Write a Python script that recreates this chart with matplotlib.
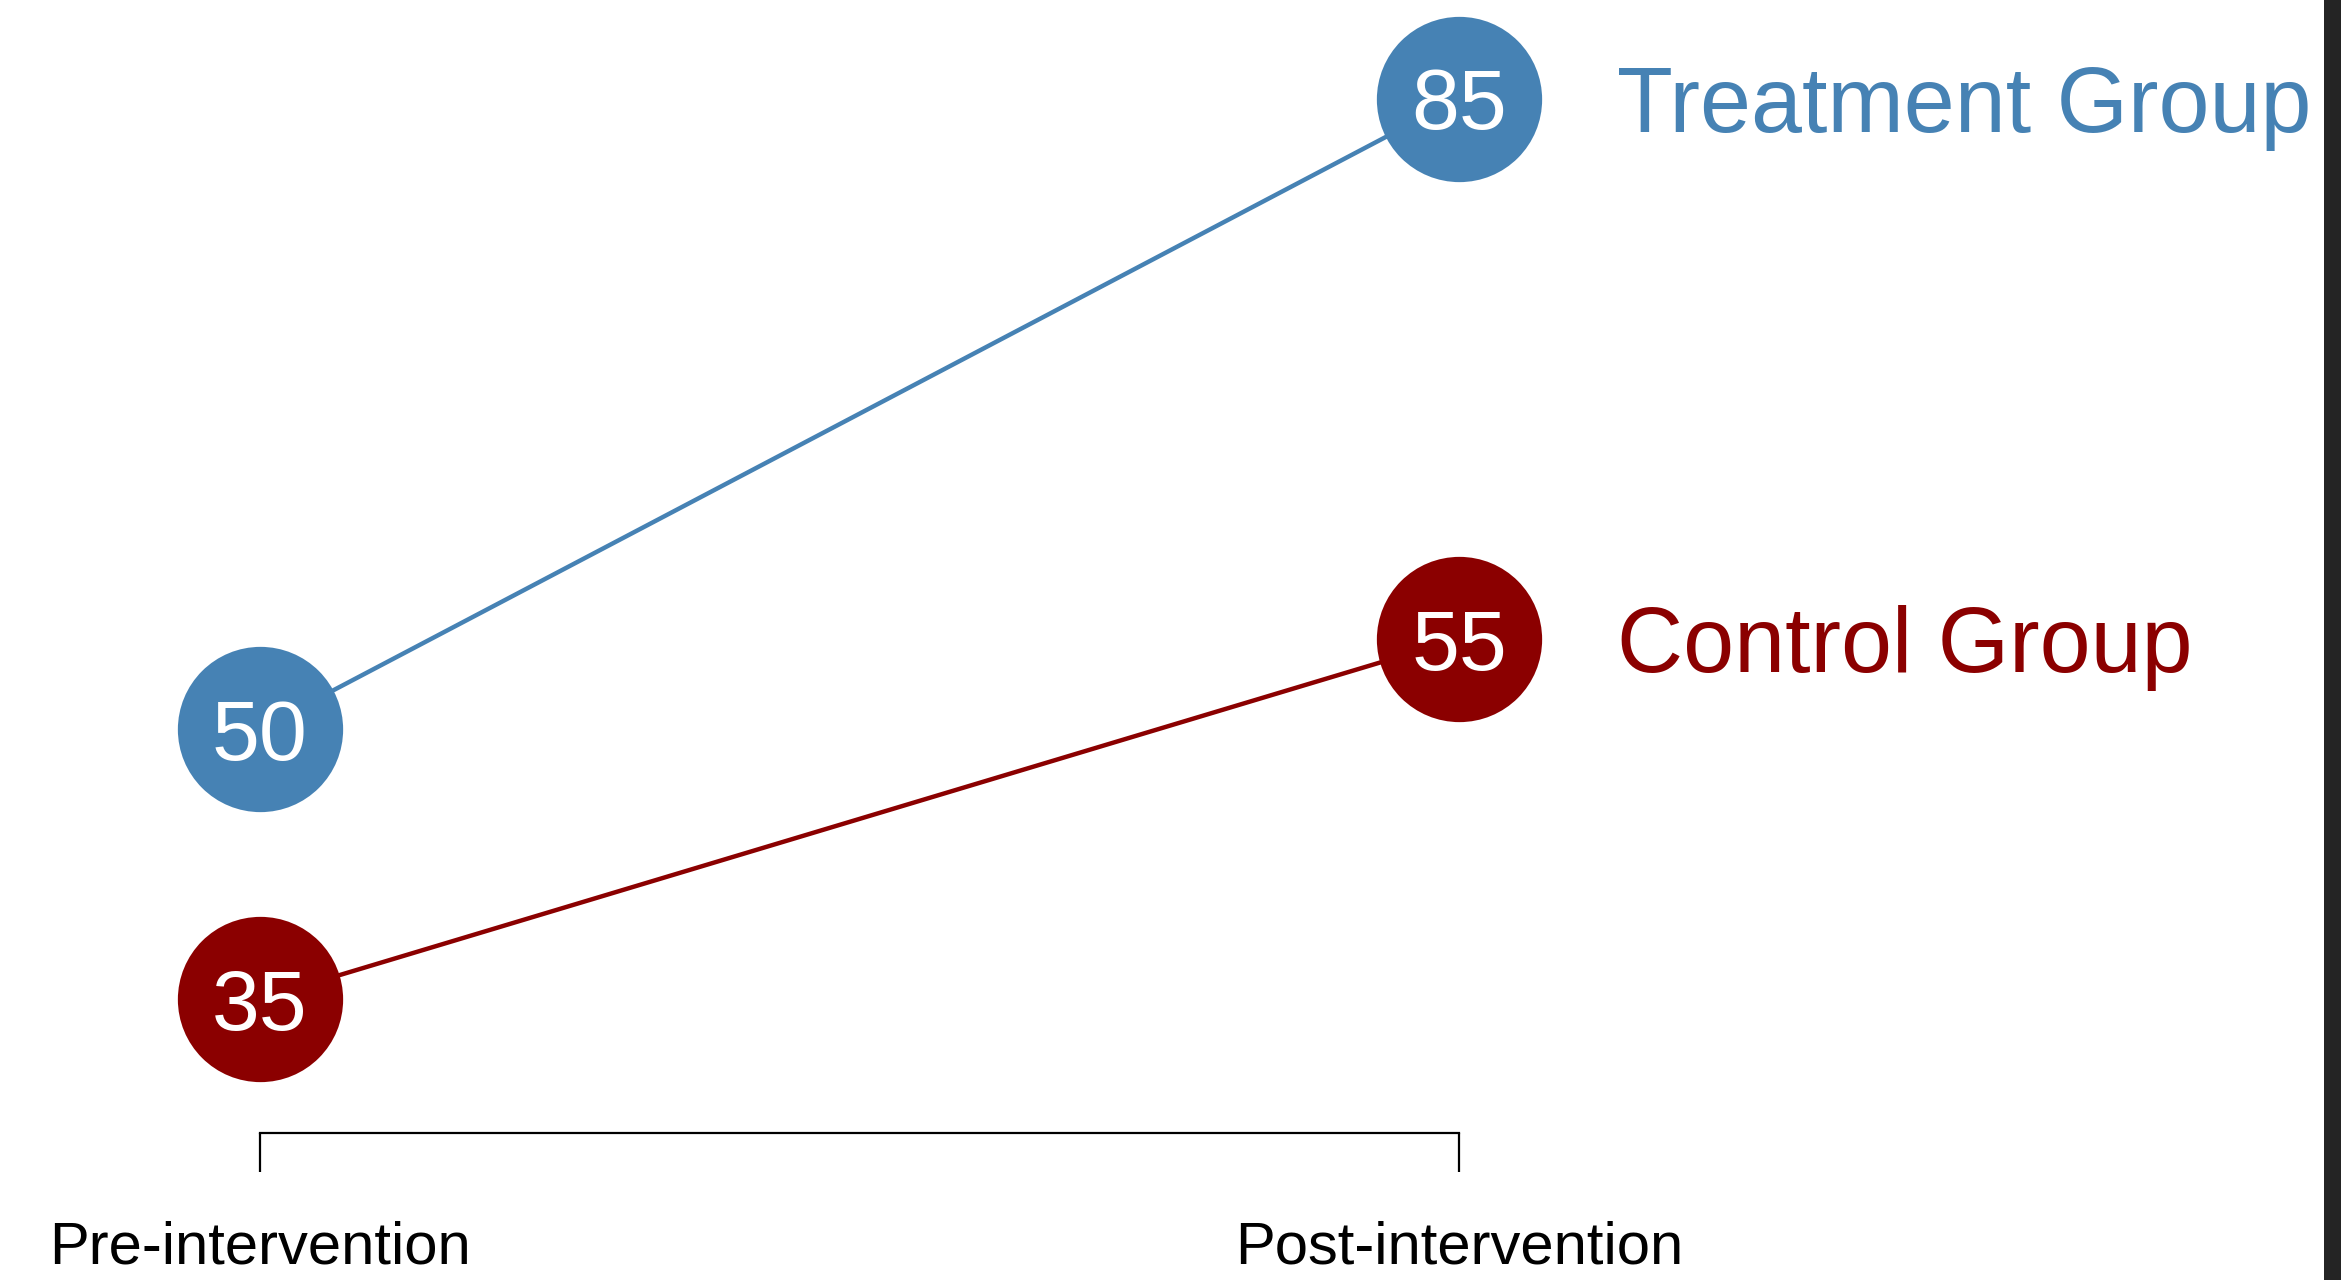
import matplotlib
matplotlib.use("Agg")
import matplotlib.pyplot as plt
from matplotlib.patches import Rectangle

plt.rcParams['font.family'] = ['Liberation Sans', 'DejaVu Sans']

# Data
periods = ["Pre-intervention", "Post-intervention"]
groups = ["Treatment Group", "Control Group"]
treatment = [50, 85]
control = [35, 55]
colors = {"Treatment Group": "#4682B4", "Control Group": "#8B0000"}

DPI = 100
W, H = 2341, 1280
fig = plt.figure(figsize=(W / DPI, H / DPI), dpi=DPI, facecolor="white")
ax = fig.add_axes([0, 0, 1, 1])
ax.set_facecolor("white")

xpos = [1, 2]
series = {"Treatment Group": treatment, "Control Group": control}

for g in groups:
    vals = series[g]
    c = colors[g]
    ax.plot(xpos, vals, color=c, lw=3.2, zorder=2, solid_capstyle="butt")
    ax.plot(xpos, vals, "o", color=c, markersize=119, markeredgewidth=0, zorder=3)
    for x, v in zip(xpos, vals):
        ax.text(x, v, str(v), color="white", fontsize=62, ha="center", va="center_baseline", zorder=4)
    ax.annotate(g, xy=(xpos[-1], vals[-1]), xytext=(158, 0), textcoords="offset pixels",
                color=c, fontsize=66, ha="left", va="center_baseline")

# Axis limits chosen so the layout matches
px_per_unit_x = 1199.0
ax.set_xlim(1 - 260 / px_per_unit_x, 1 + (W - 260) / px_per_unit_x)
px_per_unit_y = 18.01
ax.set_ylim(35 - (H - 999) / px_per_unit_y, 35 + 999 / px_per_unit_y)

for s in ["top", "right", "left"]:
    ax.spines[s].set_visible(False)
ax.spines["bottom"].set_position(("data", 35 - (1133 - 999) / px_per_unit_y))
ax.spines["bottom"].set_bounds(1, 2)
ax.spines["bottom"].set_linewidth(1.6)
ax.spines["bottom"].set_color("black")
ax.set_xticks(xpos)
ax.set_xticklabels(periods, fontsize=43)
ax.tick_params(axis="x", direction="out", length=28, width=1.6, pad=35, colors="black")
ax.set_yticks([])

# dark strip at right edge
fig.patches.append(Rectangle((2324 / W, 0), (W - 2324) / W, 1, transform=fig.transFigure,
                             facecolor="#242424", edgecolor="none", zorder=10))

fig.savefig("out.png", dpi=DPI, facecolor="white")
